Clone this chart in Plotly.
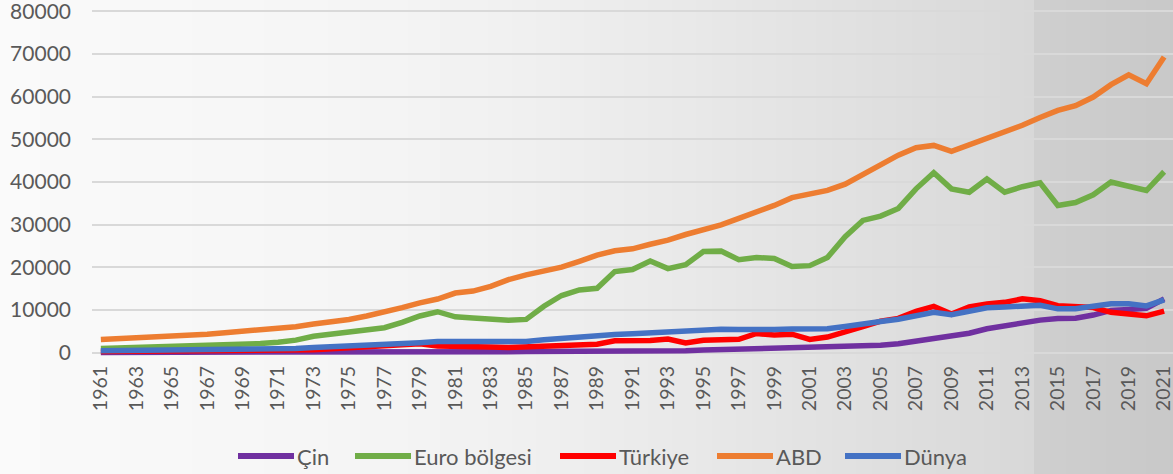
import plotly.graph_objects as go

years = list(range(1961, 2022))

cin = [75, 70, 74, 85, 98, 104, 97, 91, 100, 113, 119, 132, 157, 160, 178, 165, 185, 156, 184, 195,
       197, 203, 225, 251, 294, 282, 252, 284, 311, 318, 333, 366, 377, 473, 610, 709, 782, 829, 873, 959,
       1053, 1149, 1289, 1509, 1753, 2099, 2694, 3468, 3832, 4550, 5614, 6301, 7020, 7636, 8016, 8094,
       8817, 9905, 10144, 10409, 12618]

euro = [1000, 1100, 1230, 1350, 1450, 1550, 1650, 1750, 1950, 2150, 2450, 2950, 3850, 4300, 4950, 5150,
        5850, 7100, 8600, 9600, 8400, 8150, 7950, 7600, 7800, 10900, 13400, 14700, 15100, 19000, 19500,
        21500, 19700, 20600, 23700, 23800, 21800, 22300, 22100, 20200, 20400, 22300, 27200, 31000, 32000,
        33800, 38400, 42200, 38400, 37600, 40700, 37600, 38900, 39800, 34500, 35200, 37000, 40000, 39000,
        38000, 42400]

turkiye = [283, 309, 350, 367, 387, 442, 474, 514, 567, 496, 458, 564, 697, 929, 1136, 1275, 1427, 1550,
           2079, 1564, 1579, 1402, 1310, 1246, 1368, 1478, 1665, 1711, 1997, 2794, 2735, 2842, 3180, 2270,
           2897, 3053, 3144, 4496, 4131, 4337, 3119, 3660, 4760, 6097, 7394, 8047, 9709, 10851, 9036,
           10743, 11420, 11795, 12615, 12178, 11006, 10895, 10590, 9454, 9122, 8639, 9743]

abd = [3067, 3244, 3375, 3574, 3828, 4146, 4336, 4696, 5032, 5234, 5609, 6094, 6726, 7226, 7801, 8592,
       9453, 10565, 11674, 12575, 13976, 14434, 15544, 17121, 18237, 19071, 20039, 21417, 22857, 23889,
       24342, 25419, 26387, 27695, 28691, 29968, 31459, 32854, 34515, 36330, 37134, 38023, 39497, 41712,
       44115, 46299, 48050, 48570, 47195, 48651, 50066, 51784, 53291, 55124, 56763, 57867, 59915, 62805,
       65095, 63028, 69288]

dunya = [460, 480, 510, 550, 590, 630, 660, 700, 760, 810, 880, 990, 1190, 1360, 1490, 1590, 1780, 2050,
         2360, 2600, 2610, 2530, 2530, 2580, 2650, 3010, 3360, 3680, 3800, 4270, 4420, 4660, 4680, 4980,
         5440, 5500, 5420, 5310, 5450, 5530, 5430, 5590, 6150, 6840, 7310, 7830, 8700, 9470, 8880, 9600,
         10520, 10710, 10910, 11110, 10270, 10310, 10880, 11450, 11470, 10960, 12390]

y_ticks = list(range(0, 80001, 10000))
y_ticktext = [str(v) for v in y_ticks]
x_ticks = years[::2]
x_ticktext = [str(y) for y in x_ticks]

series_names = ["Çin", "Euro bölgesi", "Türkiye", "ABD", "Dünya"]
series_values = [cin, euro, turkiye, abd, dunya]
series_colors = ["#7030A0", "#70AD47", "#FF0000", "#ED7D31", "#4472C4"]

fig = go.Figure()
for name, vals, col in zip(series_names, series_values, series_colors):
    fig.add_trace(go.Scatter(x=years, y=vals, name=name, mode="lines",
                             line=dict(color=col, width=5.5), showlegend=False))

W, H = 1173, 474
L, R, T, B = 92, 0, 9, 117
PW, PH = W - L - R, H - T - B

def px_x(px):
    return (px - L) / PW

def px_y(py):
    return (H - B - py) / PH

# background gradient (horizontal), drawn with shapes in paper coords
stops = [(0, 250), (300, 246), (500, 241), (700, 232), (900, 222), (1033, 216),
         (1034, 207), (1173, 200)]
shapes = []
annotations = []
step = 8
x = 0
while x < W:
    g = stops[-1][1]
    for i in range(len(stops) - 1):
        if stops[i][0] <= x <= stops[i + 1][0]:
            a, b = stops[i], stops[i + 1]
            g = a[1] + (b[1] - a[1]) * (x - a[0]) / max(1, (b[0] - a[0]))
            break
    g = int(round(g))
    x1 = min(W, x + step)
    if x < 1034 <= x1:
        x1 = 1034
    shapes.append(dict(type="rect", xref="paper", yref="paper",
                       x0=px_x(x), x1=px_x(x1 + 0.5), y0=px_y(H + 5), y1=px_y(-5),
                       fillcolor=f"rgb({g},{g},{g})", line=dict(width=0), layer="below"))
    x = x1

# manual legend (long line samples like the reference)
leg_line_x = [238, 355, 560, 717, 845]
leg_line_len = 56
leg_y = 456
for name, col, lx in zip(series_names, series_colors, leg_line_x):
    shapes.append(dict(type="line", xref="paper", yref="paper",
                       x0=px_x(lx), x1=px_x(lx + leg_line_len), y0=px_y(leg_y), y1=px_y(leg_y),
                       line=dict(color=col, width=6), layer="above"))
    annotations.append(dict(xref="paper", yref="paper", x=px_x(lx + leg_line_len + 1),
                            y=px_y(leg_y), text=name, showarrow=False,
                            xanchor="left", yanchor="middle",
                            font=dict(size=22, color="#595959")))

fig.update_layout(
    width=W, height=H,
    margin=dict(l=L, r=R, t=T, b=B, autoexpand=False),
    paper_bgcolor="rgba(0,0,0,0)",
    plot_bgcolor="rgba(0,0,0,0)",
    shapes=shapes,
    annotations=annotations,
    showlegend=False,
    font=dict(family="Lato, sans-serif", color="#595959"),
    xaxis=dict(range=[1960.5, 2021.5], tickmode="array",
               tickvals=x_ticks, ticktext=x_ticktext,
               tickangle=-90, tickfont=dict(size=19.5, color="#595959"),
               showgrid=False, zeroline=False, showline=False, ticks="",
               ticklabelstandoff=4, ticklabeloverflow="allow"),
    yaxis=dict(range=[-1008, 80539], tickmode="array",
               tickvals=y_ticks, ticktext=y_ticktext,
               tickfont=dict(size=21, color="#595959"),
               showgrid=True, gridcolor="#d9d9d9", gridwidth=2,
               zeroline=False, showline=False, ticks="", ticklabelstandoff=20,
               ticklabeloverflow="allow"),
)

fig.write_html("out.html", config={"displayModeBar": False},
               post_script="document.body.style.margin='0';document.body.style.padding='0';document.body.style.overflow='hidden';")
